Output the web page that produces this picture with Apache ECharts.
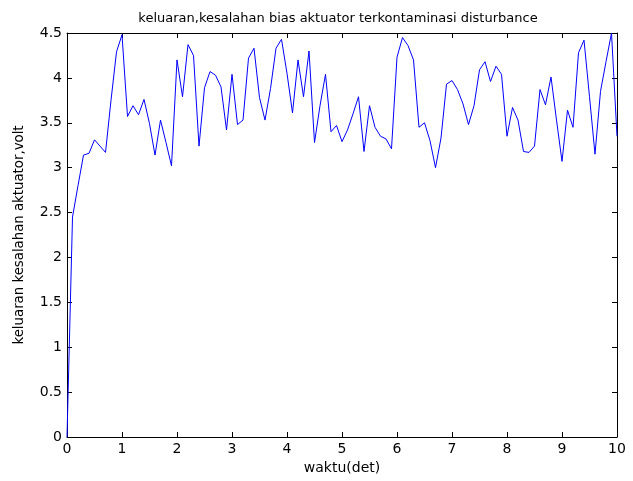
<!DOCTYPE html>
<html>
<head>
<meta charset="utf-8">
<script src="https://cdn.jsdelivr.net/npm/echarts@6/dist/echarts.min.js"></script>
<style>html,body{margin:0;padding:0;background:#fff}#c{width:633px;height:481px}</style>
</head>
<body>
<div id="c"></div>
<script>
const titleText = "keluaran,kesalahan bias aktuator terkontaminasi disturbance";
const xName = "waktu(det)";
const yName = "keluaran kesalahan aktuator,volt";
const timeStep = 0.1;
const xTicks = [0,1,2,3,4,5,6,7,8,9,10];
const yTicks = [0,0.5,1,1.5,2,2.5,3,3.5,4,4.5];
const values = [
  0, 2.45, 2.80, 3.14, 3.16, 3.31, 3.24, 3.17, 3.75, 4.29,
  4.48, 3.57, 3.69, 3.59, 3.76, 3.49, 3.14, 3.53, 3.28, 3.02,
  4.20, 3.79, 4.37, 4.25, 3.24, 3.89, 4.07, 4.03, 3.90, 3.42,
  4.04, 3.48, 3.53, 4.22, 4.33, 3.78, 3.53, 3.88, 4.33, 4.43,
  4.05, 3.61, 4.20, 3.79, 4.30, 3.28, 3.69, 4.04, 3.40, 3.47,
  3.29, 3.42, 3.60, 3.79, 3.18, 3.69, 3.45, 3.35, 3.32, 3.21,
  4.23, 4.45, 4.36, 4.20, 3.45, 3.50, 3.30, 3.00, 3.33, 3.93,
  3.97, 3.87, 3.71, 3.48, 3.69, 4.09, 4.18, 3.96, 4.13, 4.04,
  3.35, 3.67, 3.53, 3.18, 3.17, 3.24, 3.87, 3.70, 4.01, 3.53,
  3.07, 3.64, 3.45, 4.28, 4.42, 3.79, 3.15, 3.85, 4.18, 4.50,
  3.35
];
const pts = values.map((v, i) => [+(i * timeStep).toFixed(2), v]);
const font = "'DejaVu Sans', 'Liberation Sans', Arial, sans-serif";
const axCommon = {
  axisLine: {show: true, onZero: false, lineStyle: {color: '#000', width: 1}},
  axisTick: {show: true, inside: true, length: 5, lineStyle: {color: '#000'}},
  splitLine: {show: false}
};
const chart = echarts.init(document.getElementById('c'), null, {renderer: 'canvas'});
chart.setOption({
  animation: false,
  backgroundColor: '#fff',
  title: {text: titleText, left: 333, top: 7, textAlign: 'center',
    textStyle: {fontFamily: font, fontSize: 13, fontWeight: 'normal', color: '#000'}},
  grid: {left: 67, right: 16, top: 33, bottom: 44, containLabel: false},
  xAxis: [
    Object.assign({type: 'value', min: 0, max: 10, interval: 1, position: 'bottom',
      name: xName, nameLocation: 'middle', nameGap: 23,
      nameTextStyle: {fontFamily: font, fontSize: 14, color: '#000'},
      axisLabel: {fontFamily: font, fontSize: 14, color: '#000', margin: 5,
        formatter: v => xTicks.includes(v) ? String(v) : ''}}, axCommon),
    Object.assign({type: 'value', min: 0, max: 10, interval: 1, position: 'top',
      axisLabel: {show: false}}, axCommon)
  ],
  yAxis: [
    Object.assign({type: 'value', min: 0, max: 4.5, interval: 0.5, position: 'left',
      name: yName, nameLocation: 'middle', nameGap: 41, nameRotate: 90,
      nameTextStyle: {fontFamily: font, fontSize: 13.3, color: '#000'},
      axisLabel: {fontFamily: font, fontSize: 14, color: '#000', margin: 5,
        formatter: v => yTicks.includes(+v.toFixed(2)) ? String(+v.toFixed(2)) : ''}}, axCommon),
    Object.assign({type: 'value', min: 0, max: 4.5, interval: 0.5, position: 'right',
      axisLabel: {show: false}}, axCommon)
  ],
  series: [{
    type: 'line', data: pts, xAxisIndex: 0, yAxisIndex: 0,
    showSymbol: false, symbol: 'none',
    lineStyle: {color: '#0000ff', width: 1},
    clip: true
  }]
});
</script>
</body>
</html>
